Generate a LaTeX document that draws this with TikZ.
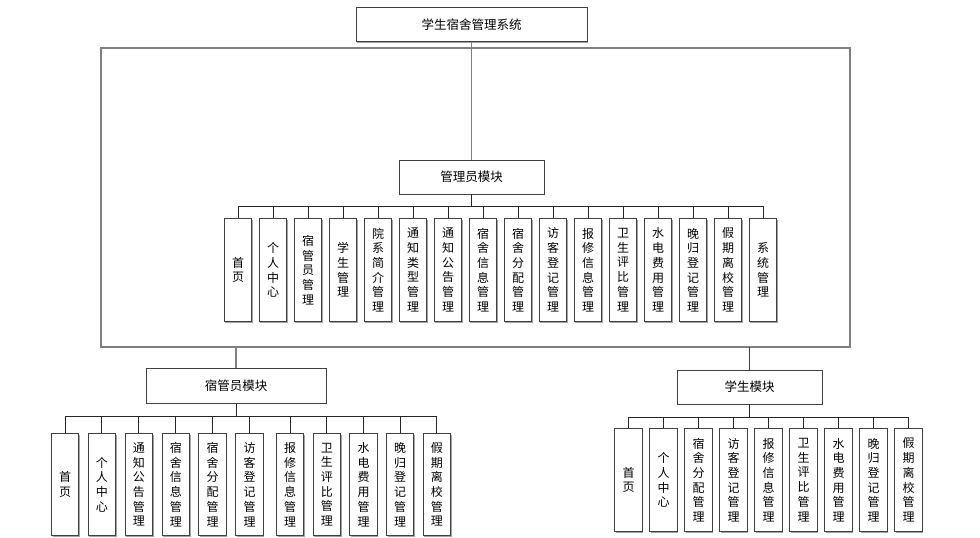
\documentclass[tikz,border=0pt]{standalone}
\usepackage{fontspec}
\setmainfont{Noto Sans CJK SC}
\usetikzlibrary{shadows}
\begin{document}
\begin{tikzpicture}[x=1pt,y=-1pt,
  box/.style={draw=black!75, line width=1pt, fill=white,
    drop shadow={shadow xshift=1.2pt,shadow yshift=-1.2pt,fill=black!45,opacity=0.8},
    inner sep=0pt, align=center},
  modbox/.style={box, minimum width=145, minimum height=34, font=\fontsize{12.5}{15}\selectfont},
  leaf/.style={box, minimum width=27.5, minimum height=103, anchor=north, font=\fontsize{12}{14.7}\selectfont},
  frame/.style={draw=black!50, line width=1.3pt},
  link/.style={draw=black!85, line width=0.9pt},
  bus/.style={draw=black, line width=0.9pt}]
\useasboundingbox (0,0) rectangle (980,538);

% top level
\node[modbox, minimum width=231] (sys) at (471.5,24.5) {学生宿舍管理系统};
\node[modbox] (admin) at (471.5,177) {管理员模块};
\node[modbox, minimum width=180, minimum height=35] (dorm) at (236,385.5) {宿管员模块};
\node[modbox] (stu) at (749.5,387) {学生模块};

% frame
\coordinate (fTL) at (101,48);
\coordinate (fTR) at (850,48);
\coordinate (fBL) at (101,347);
\coordinate (fBR) at (850,347);
\coordinate (fD) at (236,347);
\coordinate (fS) at (749.5,347);
\begin{scope}[on background layer/.style={}]
\draw[frame] (fTL) rectangle (fBR);
\draw[frame] (sys.south) -- (admin.north);
\draw[frame] (fD) -- (dorm.north);
\draw[frame, draw=black!75] (fS) -- (stu.north);
\end{scope}

% admin children
\foreach \i/\t in {0/{首\\页},1/{个\\人\\中\\心},2/{宿\\管\\员\\管\\理},3/{学\\生\\管\\理},
  4/{院\\系\\简\\介\\管\\理},5/{通\\知\\类\\型\\管\\理},6/{通\\知\\公\\告\\管\\理},
  7/{宿\\舍\\信\\息\\管\\理},8/{宿\\舍\\分\\配\\管\\理},9/{访\\客\\登\\记\\管\\理},
  10/{报\\修\\信\\息\\管\\理},11/{卫\\生\\评\\比\\管\\理},12/{水\\电\\费\\用\\管\\理},
  13/{晚\\归\\登\\记\\管\\理},14/{假\\期\\离\\校\\管\\理},15/{系\\统\\管\\理}}{
  \node[leaf] (a\i) at ({238+35*\i},218) {\t};
  \draw[link] (admin.south) -- ++(0,12) -| (a\i.north);
}

% dorm children
\foreach \i/\x/\t in {0/65.2/{首\\页},1/101.8/{个\\人\\中\\心},2/138.8/{通\\知\\公\\告\\管\\理},
  3/175.8/{宿\\舍\\信\\息\\管\\理},4/212.5/{宿\\舍\\分\\配\\管\\理},5/249.5/{访\\客\\登\\记\\管\\理},
  6/290.2/{报\\修\\信\\息\\管\\理},7/326.8/{卫\\生\\评\\比\\管\\理},8/363.5/{水\\电\\费\\用\\管\\理},
  9/400.2/{晚\\归\\登\\记\\管\\理},10/436.8/{假\\期\\离\\校\\管\\理}}{
  \node[leaf, minimum height=102] (d\i) at (\x,433) {\t};
  \draw[link] (dorm.south) -- ++(0,12.5) -| (d\i.north);
}

% student children
\foreach \i/\t in {0/{首\\页},1/{个\\人\\中\\心},2/{宿\\舍\\分\\配\\管\\理},
  3/{访\\客\\登\\记\\管\\理},4/{报\\修\\信\\息\\管\\理},5/{卫\\生\\评\\比\\管\\理},
  6/{水\\电\\费\\用\\管\\理},7/{晚\\归\\登\\记\\管\\理},8/{假\\期\\离\\校\\管\\理}}{
  \node[leaf] (s\i) at ({628.5+35*\i},428) {\t};
  \draw[link] (stu.south) -- ++(0,13) -| (s\i.north);
}
\end{tikzpicture}
\end{document}
